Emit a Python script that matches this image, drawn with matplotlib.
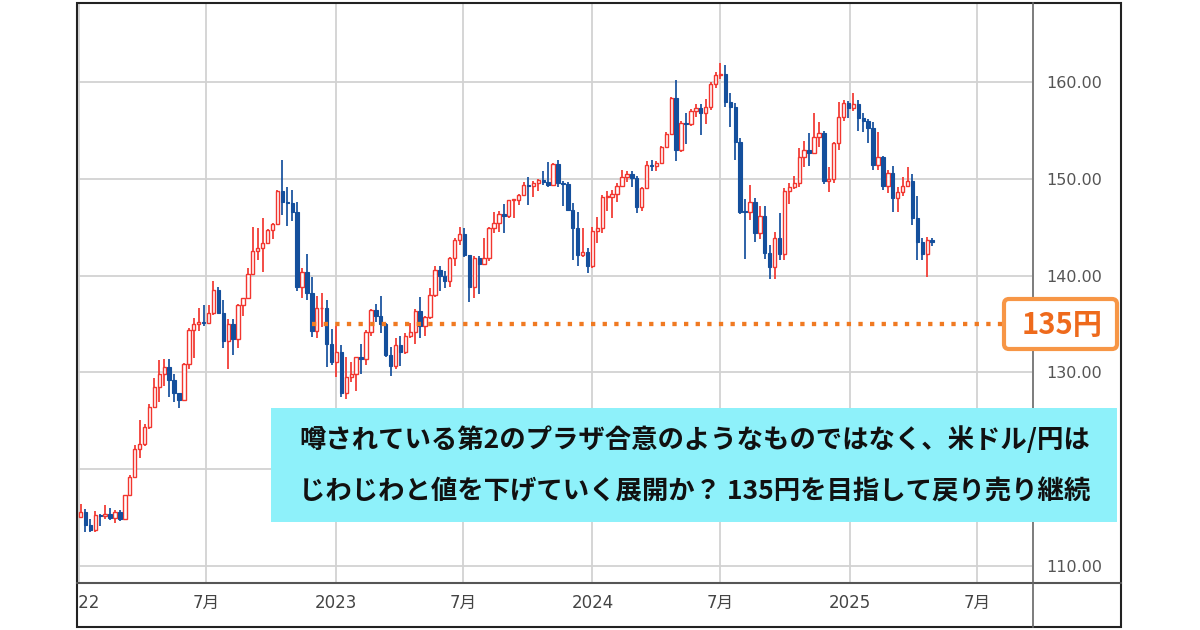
import matplotlib
matplotlib.use("Agg")
import matplotlib.pyplot as plt
import matplotlib.dates as mdates
import numpy as np
import pandas as pd
from matplotlib.patches import Rectangle, FancyBboxPatch
from matplotlib.lines import Line2D
from matplotlib.transforms import Bbox, TransformedBbox

# 米ドル/円 週足 (2022-01-03 の週から)
opens = [
    # 2022
    115.08, 115.55, 114.20, 113.70, 115.25, 115.20, 115.42, 115.00, 115.55, 114.85, 117.30, 119.15, 122.05,
    122.55, 124.35, 126.40, 128.50, 129.85, 130.55, 129.25, 127.85, 127.10, 130.85, 134.40, 134.95, 135.20,
    135.15, 136.10, 138.55, 136.10, 133.25, 135.00, 133.45, 136.95, 137.65, 140.20, 142.55, 142.90, 143.35,
    144.70, 145.30, 148.70, 147.65, 147.45, 146.60, 138.80, 140.40, 138.25, 134.30, 136.60, 136.70, 132.90,
    # 2023
    131.10, 132.10, 127.90, 129.55, 129.85, 131.55, 131.40, 134.15, 136.45, 135.85, 135.00, 131.80, 130.70,
    132.80, 132.15, 133.80, 134.15, 136.30, 134.80, 135.70, 137.95, 140.60, 139.95, 139.40, 141.85, 143.70,
    144.30, 142.10, 138.80, 141.80, 141.15, 141.80, 144.95, 145.40, 146.40, 146.20, 147.80, 147.85, 148.35,
    149.35, 149.30, 149.55, 149.85, 149.65, 149.40, 151.50, 149.60, 149.45, 146.80, 144.95, 142.15, 142.40,
    # 2024
    141.00, 144.60, 144.90, 148.10, 148.15, 148.40, 149.30, 150.20, 150.50, 150.05, 147.05, 149.05, 151.40,
    151.35, 151.60, 153.30, 154.65, 158.30, 152.95, 155.80, 155.65, 157.00, 157.30, 156.75, 157.40, 159.80,
    160.70, 160.85, 157.90, 157.45, 153.75, 146.60, 146.55, 147.65, 144.35, 146.15, 142.30, 140.85, 143.85,
    142.20, 148.70, 149.15, 149.55, 152.30, 152.95, 152.65, 154.30, 154.75, 149.75, 150.00, 153.65, 156.40, 157.85,
    # 2025
    157.30, 157.75, 156.30, 156.00, 155.20, 151.40, 152.30, 149.30, 150.60, 148.00, 148.60, 149.30, 149.80,
    145.90, 143.50, 142.20, 143.65,
]
highs = [
    116.35, 115.85, 114.90, 115.68, 115.40, 116.34, 116.00, 115.75, 115.80, 117.35, 119.40, 122.45, 125.10,
    124.70, 126.70, 129.40, 131.25, 131.35, 131.35, 129.80, 127.90, 130.98, 134.55, 135.60, 136.70, 137.00,
    137.00, 139.40, 138.85, 137.45, 135.50, 135.55, 137.10, 137.70, 140.80, 144.99, 144.95, 145.90, 144.85,
    145.45, 148.85, 151.95, 149.10, 148.85, 147.55, 140.80, 142.25, 139.90, 137.85, 138.20, 137.45, 134.50,
    134.75, 132.85, 131.58, 131.12, 131.60, 132.90, 134.35, 136.55, 137.10, 137.90, 135.10, 132.65, 133.55,
    133.75, 134.10, 135.15, 136.55, 137.75, 135.80, 138.75, 140.95, 141.00, 140.45, 141.95, 143.85, 145.05,
    144.95, 142.15, 142.00, 142.00, 143.90, 145.00, 146.55, 146.65, 147.35, 147.85, 147.95, 148.45, 149.70,
    150.15, 149.80, 150.00, 150.80, 151.70, 151.60, 151.90, 149.75, 149.65, 147.50, 146.60, 144.95, 142.80,
    145.00, 146.00, 148.30, 148.70, 148.80, 149.55, 150.90, 150.85, 150.85, 150.30, 149.15, 151.85, 151.95,
    151.80, 153.40, 154.80, 158.45, 160.20, 155.95, 156.80, 157.20, 157.70, 157.70, 158.25, 159.95, 161.00,
    161.95, 161.75, 158.85, 157.85, 154.20, 147.90, 149.40, 148.00, 147.20, 147.20, 143.15, 144.50, 146.50,
    149.00, 149.55, 150.30, 153.20, 153.90, 154.70, 156.75, 155.90, 154.95, 151.25, 153.85, 157.95, 158.10, 158.00,
    158.90, 158.10, 156.75, 156.20, 155.90, 154.80, 152.40, 150.95, 151.30, 149.20, 150.15, 151.20, 150.50,
    148.20, 143.90, 143.95, 143.90,
]
lows = [
    114.95, 113.48, 113.47, 113.47, 114.15, 114.85, 114.70, 114.40, 114.65, 114.80, 117.20, 119.10, 121.20,
    122.40, 124.10, 126.30, 126.95, 128.60, 127.50, 126.95, 126.35, 127.00, 130.40, 131.50, 134.25, 134.75,
    134.95, 135.95, 136.55, 132.50, 130.40, 131.75, 132.55, 135.80, 137.55, 140.20, 141.65, 140.35, 143.30,
    143.80, 145.20, 146.25, 145.10, 145.65, 138.45, 137.65, 137.50, 133.62, 133.60, 134.65, 130.58, 130.80,
    129.50, 127.45, 127.22, 129.02, 128.08, 129.80, 130.80, 133.80, 135.25, 134.10, 131.55, 129.65, 130.40,
    130.65, 131.85, 133.50, 132.95, 133.50, 133.75, 135.50, 137.80, 138.40, 138.75, 138.80, 141.00, 143.20,
    141.95, 137.25, 137.70, 138.05, 141.05, 141.50, 144.45, 144.55, 144.45, 145.90, 145.90, 147.30, 148.30,
    147.30, 148.15, 148.75, 149.35, 149.20, 149.35, 149.20, 147.15, 146.65, 141.60, 140.95, 141.95, 140.25,
    140.80, 143.40, 144.35, 146.65, 145.90, 147.60, 149.10, 149.65, 149.20, 146.50, 146.65, 148.95, 150.80,
    150.80, 151.50, 153.25, 154.50, 151.85, 152.80, 153.60, 155.45, 156.35, 154.55, 155.70, 157.15, 159.35,
    160.30, 157.40, 155.35, 151.95, 146.40, 141.70, 145.70, 143.45, 143.80, 141.75, 139.60, 139.60, 141.65,
    141.65, 147.35, 148.95, 149.10, 151.20, 151.30, 152.60, 153.30, 149.50, 148.65, 149.55, 153.00, 156.00, 156.25,
    157.05, 154.95, 154.80, 153.70, 150.95, 150.90, 148.85, 148.55, 146.55, 146.55, 148.20, 149.10, 145.20,
    141.65, 141.60, 139.90, 143.10,
]
closes = [
    115.55, 114.20, 113.70, 115.25, 115.20, 115.42, 115.00, 115.55, 114.85, 117.30, 119.15, 122.05, 122.55,
    124.35, 126.40, 128.50, 129.85, 130.55, 129.25, 127.85, 127.10, 130.85, 134.40, 134.95, 135.20, 135.15,
    136.10, 138.55, 136.10, 133.25, 135.00, 133.45, 136.95, 137.65, 140.20, 142.55, 142.90, 143.35, 144.70,
    145.30, 148.70, 147.65, 147.45, 146.60, 138.80, 140.40, 138.25, 134.30, 136.60, 136.70, 132.90, 131.10,
    132.10, 127.90, 129.55, 129.85, 131.55, 131.40, 134.15, 136.45, 135.85, 135.00, 131.80, 130.70, 132.80,
    132.15, 133.80, 134.15, 136.30, 134.80, 135.70, 137.95, 140.60, 139.95, 139.40, 141.85, 143.70, 144.30,
    142.10, 138.80, 141.80, 141.15, 141.80, 144.95, 145.40, 146.40, 146.20, 147.80, 147.85, 148.35, 149.35,
    149.30, 149.55, 149.85, 149.65, 149.40, 151.50, 149.60, 149.45, 146.80, 144.95, 142.15, 142.40, 141.00,
    144.60, 144.90, 148.10, 148.15, 148.40, 149.30, 150.20, 150.50, 150.05, 147.05, 149.05, 151.40, 151.35,
    151.60, 153.30, 154.65, 158.30, 152.95, 155.80, 155.65, 157.00, 157.30, 156.75, 157.40, 159.80, 160.70,
    160.85, 157.90, 157.45, 153.75, 146.60, 146.55, 147.65, 144.35, 146.15, 142.30, 140.85, 143.85, 142.20,
    148.70, 149.15, 149.55, 152.30, 152.95, 152.65, 154.30, 154.75, 149.75, 150.00, 153.65, 156.40, 157.85, 157.30,
    157.75, 156.30, 156.00, 155.20, 151.40, 152.30, 149.30, 150.60, 148.00, 148.60, 149.30, 149.80, 145.90,
    143.50, 142.20, 143.65, 143.45,
]
week_start = pd.date_range("2022-01-03", periods=len(closes), freq="W-MON")

tick_dates = ["2022-01-01", "2022-07-01", "2023-01-01", "2023-07-01",
              "2024-01-01", "2024-07-01", "2025-01-01", "2025-07-01"]
tick_labels = ["2022", "7月", "2023", "7月", "2024", "7月", "2025", "7月"]
y_ticks = [110, 120, 130, 140, 150, 160]

target_level = 135
target_start = "2022-11-28"
target_end = "2025-08-10"
target_label = "135円"
comment_lines = ["噂されている第2のプラザ合意のようなものではなく、米ドル/円は",
                 "じわじわと値を下げていく展開か？ 135円を目指して戻り売り継続"]

RED = "#f2362f"
BLUE = "#144f9c"
ORANGE = "#f07a22"

W, H = 1200, 630
fig = plt.figure(figsize=(W / 100, H / 100), dpi=100)
ax = fig.add_axes([77 / W, 1 - 583 / H, (1032 - 77) / W, (583 - 3) / H])

x = mdates.date2num(week_start)
o = np.array(opens)
hi = np.array(highs)
lo = np.array(lows)
c = np.array(closes)
up = c >= o
body_lo = np.minimum(o, c)
body_h = np.maximum(np.abs(c - o), 0.1)

ax.vlines(x, lo, hi, colors=np.where(up, RED, BLUE), linewidth=1.25, zorder=2)
ax.bar(x[up], body_h[up], width=4.8, bottom=body_lo[up], facecolor="white",
       edgecolor=RED, linewidth=1.0, zorder=3)
ax.bar(x[~up], body_h[~up], width=4.8, bottom=body_lo[~up], facecolor=BLUE,
       edgecolor=BLUE, linewidth=0.8, zorder=3)

# 135円ライン
ax.plot(mdates.date2num(pd.to_datetime([target_start, target_end])),
        [target_level, target_level], color=ORANGE, linewidth=3.1,
        linestyle=(0, (1, 1.7)), dash_capstyle="butt", zorder=4)

ax.set_xlim(mdates.date2num(pd.Timestamp("2021-12-29")),
            mdates.date2num(pd.Timestamp("2025-09-17")))
ax.set_ylim(108.24, 168.16)

ax.set_xticks(mdates.date2num(pd.to_datetime(tick_dates)))
ax.set_xticklabels(tick_labels, family=["DejaVu Sans", "Noto Sans CJK JP"],
                   fontsize=12, color="#444444")
ax.yaxis.tick_right()
ax.set_yticks(y_ticks)
ax.set_yticklabels(["%.2f" % v for v in y_ticks], fontsize=11.5, color="#555555")
ax.tick_params(axis="x", length=0, pad=8)
ax.tick_params(axis="y", length=0, pad=10.5)
ax.grid(True, color="#d2d2d2", linewidth=1.3, zorder=0)
ax.set_axisbelow(True)
for s in ax.spines.values():
    s.set_visible(False)

clip = TransformedBbox(Bbox([[77 / W, 0], [1121 / W, 1]]), fig.transFigure)
for lbl in ax.get_xticklabels():
    lbl.set_clip_box(clip)
    lbl.set_clip_on(True)

# 枠線と区切り線
fig.add_artist(Line2D([77 / W, 1121 / W], [1 - 583 / H, 1 - 583 / H],
                      transform=fig.transFigure, color="#555555", linewidth=1.5))
fig.add_artist(Line2D([1033 / W, 1033 / W], [1 - 627 / H, 1 - 3 / H],
                      transform=fig.transFigure, color="#666666", linewidth=1.2))
fig.add_artist(Rectangle((77 / W, 1 - 627 / H), (1121 - 77) / W, (627 - 3) / H,
                         transform=fig.transFigure, fill=False,
                         edgecolor="#222222", linewidth=1.5))

inch = fig.dpi_scale_trans
# 135円ラベル
fig.add_artist(FancyBboxPatch((10.04, (H - 349) / 100), 1.13, 0.50,
                              boxstyle="round,pad=0,rounding_size=0.05",
                              transform=inch, facecolor="white",
                              edgecolor="#f79646", linewidth=3.0, zorder=5))
fig.text(10.62, (H - 325) / 100, target_label, transform=inch, ha="center",
         va="center", fontsize=21, fontweight="bold", color="#ee6a1c",
         family=["Noto Sans CJK JP", "DejaVu Sans"], zorder=6)

# コメント枠
fig.add_artist(Rectangle((2.71, (H - 522) / 100), 8.46, 1.14, transform=inch,
                         facecolor="#8ef1fa", edgecolor="none", zorder=5))
for i, line in enumerate(comment_lines):
    fig.text(6.95, (H - 440 - 52 * i) / 100, line, transform=inch, ha="center",
             va="center", fontsize=19, fontweight="bold", color="#111111",
             family=["Noto Sans CJK JP", "DejaVu Sans"], zorder=6)

fig.savefig("out.png", dpi=100, facecolor="white")
